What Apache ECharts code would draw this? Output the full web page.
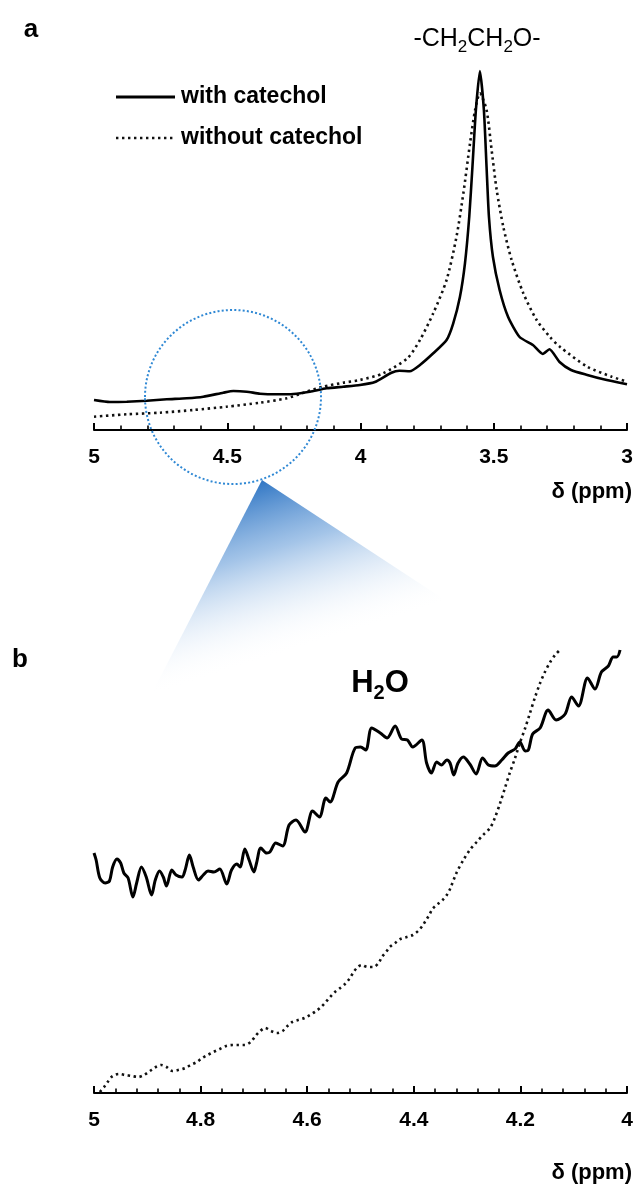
<!DOCTYPE html>
<html><head><meta charset="utf-8">
<script src="https://cdn.jsdelivr.net/npm/echarts@6/dist/echarts.min.js"></script>
<style>html,body{margin:0;padding:0;background:#fff}#c{width:639px;height:1184px}</style>
</head><body><div id="c"></div>
<script>
// ---- Panel a (full spectrum) ----
const topTicks = ['5', '4.5', '4', '3.5', '3'];
const topWithPpm = [5.0,4.94,4.877,4.802,4.727,4.652,4.59,4.515,4.477,4.427,4.377,4.314,4.252,4.19,4.127,4.065,4.002,3.946,3.884,3.854,3.815,3.777,3.727,3.677,3.652,3.627,3.608,3.592,3.58,3.567,3.552,3.537,3.527,3.518,3.503,3.478,3.446,3.403,3.353,3.316,3.291,3.253,3.21,3.149,3.088,3.0];
const topWith    = [30,28,28.3,29.3,30.7,31.7,33.3,37.3,39,38.3,36.3,35.7,36,38.3,41.7,43.3,45,48,57.3,59.3,58.7,65,76.7,90,106.7,133,166.7,213,263,320,359,320,263,213,173,140,113,93,85,76,80.7,68,60,55,50.7,45.7];
const topWithoutPpm = [5.0,4.877,4.752,4.627,4.502,4.377,4.277,4.202,4.14,4.065,4.002,3.915,3.823,3.777,3.727,3.677,3.64,3.614,3.589,3.57,3.552,3.527,3.508,3.489,3.464,3.433,3.389,3.339,3.289,3.251,3.149,3.057,3.0];
const topWithout    = [13.3,15.7,17.3,20,23.3,27.3,31.7,38.3,43.3,47.3,50,56.7,72,90,116.7,150,193,236.7,286.7,320,336.7,320,280,240,203,170,136.7,110,93,83,63.3,53.3,48.3];

// ---- Panel b (zoom 5.0 - 4.0 ppm) ----
const botTicks = ['5', '4.8', '4.6', '4.4', '4.2', '4'];
const botWithPpm = [5.0,4.996,4.989,4.979,4.971,4.965,4.957,4.95,4.944,4.936,4.927,4.92,4.911,4.902,4.892,4.885,4.877,4.87,4.864,4.854,4.846,4.835,4.829,4.821,4.814,4.804,4.795,4.786,4.775,4.764,4.751,4.742,4.732,4.726,4.717,4.709,4.7,4.695,4.687,4.676,4.67,4.659,4.646,4.634,4.621,4.604,4.59,4.577,4.565,4.557,4.542,4.526,4.51,4.5,4.49,4.479,4.463,4.45,4.435,4.423,4.412,4.402,4.385,4.376,4.367,4.357,4.348,4.338,4.332,4.325,4.317,4.307,4.295,4.283,4.271,4.26,4.248,4.235,4.223,4.21,4.201,4.191,4.185,4.177,4.163,4.148,4.133,4.116,4.104,4.091,4.074,4.06,4.048,4.035,4.026,4.019,4.013];
const botWith    = [240,233,215,210,212,226,234,230,220,215,196,210,226,216,198,213,222,216,207,223,218,216,223,238,226,213,218,222,221,224,209,223,229,226,244,233,221,230,245,240,241,250,247,268,273,261,282,276,295,291,311,320,345,346,343,365,360,355,367,354,353,346,353,330,320,331,328,333,330,318,330,336,329,319,335,328,327,333,340,344,351,342,343,359,365,383,373,379,396,387,415,404,421,427,436,436,443];
const botWithoutPpm = [4.989,4.981,4.973,4.965,4.953,4.942,4.929,4.917,4.906,4.895,4.884,4.874,4.864,4.853,4.842,4.829,4.819,4.807,4.797,4.787,4.776,4.764,4.752,4.74,4.729,4.717,4.706,4.697,4.69,4.679,4.668,4.657,4.646,4.637,4.628,4.617,4.605,4.595,4.583,4.574,4.565,4.557,4.548,4.538,4.529,4.521,4.514,4.507,4.498,4.487,4.476,4.466,4.46,4.452,4.445,4.435,4.425,4.413,4.402,4.392,4.384,4.377,4.371,4.365,4.355,4.346,4.338,4.332,4.32,4.307,4.295,4.282,4.27,4.257,4.248,4.238,4.229,4.22,4.21,4.201,4.191,4.182,4.173,4.163,4.154,4.144,4.135,4.126];
const botWithout    = [1,6,12,17,19,18,17,16,18,22,26,28,26,22,23,25,28,31,35,38,41,44,47,48,48,48,51,57,61,65,62,60,62,67,71,73,75,78,82,86,91,96,101,105,109,114,120,125,128,126,126,130,136,141,146,150,154,156,158,162,167,173,178,184,189,193,198,204,220,233,243,251,258,265,275,290,305,320,335,350,365,380,395,410,421,431,438,443];

const seriesNames = ['with catechol', 'without catechol'];
const axisName = 'δ (ppm)';

const pairs = (xs, ys) => xs.map((x, i) => [x, ys[i]]);
const FONT = '"Liberation Sans", Arial, sans-serif';

function xAxisCfg(gridIndex, min, max, interval, labels) {
  return {
    type: 'value', gridIndex, min, max, interval, inverse: true,
    axisLine: { show: true, onZero: false, lineStyle: { color: '#000', width: 2 } },
    axisTick: { show: true, inside: true, length: 7, lineStyle: { color: '#000', width: 2 } },
    minorTick: { show: true, splitNumber: 5, length: 4.5, lineStyle: { color: '#000', width: 1.6 } },
    splitLine: { show: false },
    axisLabel: {
      color: '#000', fontSize: 21, fontWeight: 'bold', fontFamily: FONT, margin: 17,
      showMinLabel: true, showMaxLabel: true,
      formatter: v => {
        const s = String(Math.round(v * 100) / 100);
        return labels.indexOf(s) >= 0 ? s : '';
      }
    }
  };
}

const chart = echarts.init(document.getElementById('c'), null, { renderer: 'canvas' });
const solid = { color: '#000', width: 2.6 };
const dotted = { color: '#111', width: 2.6, type: [2.4, 3.6] };

chart.setOption({
  backgroundColor: '#fff',
  animation: false,
  grid: [
    { left: 94, right: 12, top: 50, height: 380 },
    { left: 94, right: 12, top: 633, height: 460 }
  ],
  xAxis: [
    xAxisCfg(0, 3, 5, 0.5, topTicks),
    xAxisCfg(1, 4, 5, 0.2, botTicks)
  ],
  yAxis: [
    { type: 'value', gridIndex: 0, min: 0, max: 380, show: false },
    { type: 'value', gridIndex: 1, min: 0, max: 460, show: false }
  ],
  series: [
    { name: seriesNames[1], type: 'line', xAxisIndex: 0, yAxisIndex: 0, data: pairs(topWithoutPpm, topWithout), showSymbol: false, smooth: 0.25, lineStyle: dotted, z: 2 },
    { name: seriesNames[0], type: 'line', xAxisIndex: 0, yAxisIndex: 0, data: pairs(topWithPpm, topWith), showSymbol: false, smooth: 0.2, lineStyle: solid, z: 3 },
    { name: seriesNames[1], type: 'line', xAxisIndex: 1, yAxisIndex: 1, data: pairs(botWithoutPpm, botWithout), showSymbol: false, smooth: 0.3, lineStyle: dotted, z: 2 },
    { name: seriesNames[0], type: 'line', xAxisIndex: 1, yAxisIndex: 1, data: pairs(botWithPpm, botWith), showSymbol: false, smooth: 0.3, lineStyle: { color: '#000', width: 3 }, z: 3 }
  ],
  graphic: [
    // zoom wedge
    { type: 'polygon', z: 1, shape: { points: [[262, 480], [445, 600], [150, 697]] },
      style: { fill: { type: 'linear', x: 262, y: 480, x2: 314, y2: 645, global: true,
        colorStops: [ { offset: 0, color: 'rgba(48,118,196,1)' }, { offset: 0.4, color: 'rgba(115,165,220,0.65)' }, { offset: 1, color: 'rgba(255,255,255,0)' } ] } } },
    // magnifier circle
    { type: 'ellipse', z: 10, shape: { cx: 233, cy: 397, rx: 88, ry: 87 },
      style: { fill: null, stroke: '#2f88d4', lineWidth: 2, lineDash: [2, 2.2] } },
    // panel letters
    { type: 'text', z: 10, x: 31, y: 30, style: { text: 'a', font: 'bold 26px ' + FONT, fill: '#000', align: 'center', verticalAlign: 'middle' } },
    { type: 'text', z: 10, x: 20, y: 660, style: { text: 'b', font: 'bold 26px ' + FONT, fill: '#000', align: 'center', verticalAlign: 'middle' } },
    // peak label
    { type: 'text', z: 10, x: 477, y: 39, style: {
        text: '{n|-CH}{s|2}{n|CH}{s|2}{n|O-}', align: 'center', verticalAlign: 'middle', fill: '#000',
        rich: { n: { fontSize: 25, fontFamily: FONT, lineHeight: 33, verticalAlign: 'middle' },
                s: { fontSize: 17, fontFamily: FONT, lineHeight: 17, verticalAlign: 'bottom' } } } },
    { type: 'text', z: 10, x: 380, y: 683, style: {
        text: '{n|H}{s|2}{n|O}', align: 'center', verticalAlign: 'middle', fill: '#000',
        rich: { n: { fontSize: 31, fontWeight: 'bold', fontFamily: FONT, lineHeight: 40, verticalAlign: 'middle' },
                s: { fontSize: 20, fontWeight: 'bold', fontFamily: FONT, lineHeight: 20, verticalAlign: 'bottom' } } } },
    // legend
    { type: 'line', z: 10, shape: { x1: 116, y1: 97, x2: 175, y2: 97 }, style: { stroke: '#000', lineWidth: 3 } },
    { type: 'line', z: 10, shape: { x1: 116, y1: 138, x2: 175, y2: 138 }, style: { stroke: '#111', lineWidth: 2.6, lineDash: [2.4, 3.6] } },
    { type: 'text', z: 10, x: 181, y: 97, style: { text: seriesNames[0], font: 'bold 23px ' + FONT, fill: '#000', align: 'left', verticalAlign: 'middle' } },
    { type: 'text', z: 10, x: 181, y: 138, style: { text: seriesNames[1], font: 'bold 23px ' + FONT, fill: '#000', align: 'left', verticalAlign: 'middle' } },
    // axis names
    { type: 'text', z: 10, x: 632, y: 492, style: { text: axisName, font: 'bold 22px ' + FONT, fill: '#000', align: 'right', verticalAlign: 'middle' } },
    { type: 'text', z: 10, x: 632, y: 1173, style: { text: axisName, font: 'bold 22px ' + FONT, fill: '#000', align: 'right', verticalAlign: 'middle' } }
  ]
});
</script>
</body></html>
